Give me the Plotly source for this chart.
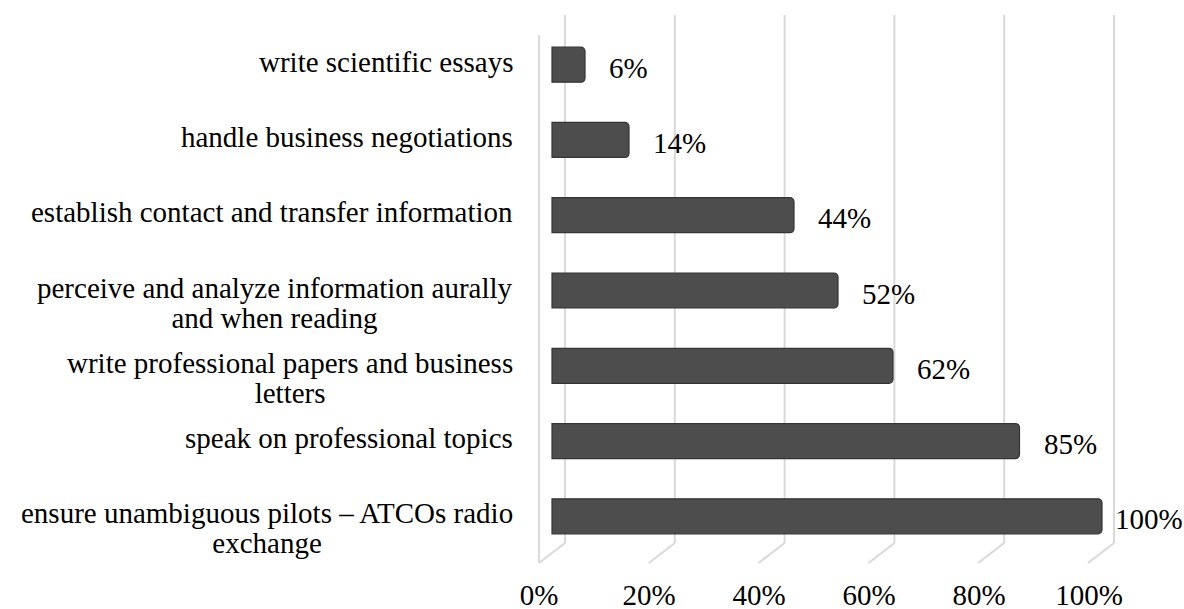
import plotly.graph_objects as go

# ---- data (top to bottom as shown) ----
categories = [
    "write scientific essays",
    "handle business negotiations",
    "establish contact and transfer information",
    "perceive and analyze information aurally<br>and when reading",
    "write professional papers and business<br>letters",
    "speak on professional topics",
    "ensure unambiguous pilots – ATCOs radio<br>exchange",
]
values = [6, 14, 44, 52, 62, 85, 100]
value_labels = ["6%", "14%", "44%", "52%", "62%", "85%", "100%"]
tick_values = [0, 20, 40, 60, 80, 100]
tick_labels = ["0%", "20%", "40%", "60%", "80%", "100%"]

# ---- layout constants (pixels) ----
W, H = 1184, 609
L, R, T, B = 530, 1120, 27, 554          # plot area
FONT = "Liberation Serif, Times New Roman, serif"
FS = 29
LINE_FS = 23                              # controls line spacing of wrapped labels
GRID = "#d9d9d9"

def paper_y(py):
    return (B - py) / (B - T)

def xrange(zero_px, px_per_unit):
    return [(L - zero_px) / px_per_unit, (R - zero_px) / px_per_unit]

bar_scale = 5.5
back_scale = 109.8 / 20.0
depth_units = 26 / back_scale

fig = go.Figure()
fig.add_trace(go.Bar(
    x=values, y=categories, orientation="h", xaxis="x", yaxis="y",
    width=0.465,
    marker=dict(color="#4d4d4d", line=dict(color="#353535", width=1.2), cornerradius=4),
    hoverinfo="skip", showlegend=False,
))

shapes = []
for t in tick_values:
    shapes.append(dict(type="line", xref="x2", yref="paper",
                       x0=t, x1=t, y0=paper_y(15), y1=paper_y(543),
                       line=dict(color=GRID, width=2), layer="below"))
    shapes.append(dict(type="line", xref="x2", yref="paper",
                       x0=t, x1=t - depth_units, y0=paper_y(543), y1=paper_y(563),
                       line=dict(color=GRID, width=2), layer="below"))
# front edge of left wall
shapes.append(dict(type="line", xref="x2", yref="paper",
                   x0=tick_values[0] - depth_units, x1=tick_values[0] - depth_units,
                   y0=paper_y(35), y1=paper_y(563),
                   line=dict(color=GRID, width=2), layer="below"))

annotations = []
for cat in categories:
    lines = cat.split("<br>")
    n = len(lines)
    txt = "<br>".join('<span style="font-size:%dpx">%s</span>' % (FS, s) for s in lines)
    annotations.append(dict(
        xref="paper", yref="y", x=(515 - L) / (R - L), y=cat,
        text=txt, xanchor="right", yanchor="middle", align="center",
        showarrow=False, yshift=-(n - 1) * 15 + 3,
        font=dict(family=FONT, size=LINE_FS if n > 1 else FS, color="black"),
    ))
for cat, v, lab in zip(categories, values, value_labels):
    annotations.append(dict(
        xref="x", yref="y", x=v, y=cat, text=lab,
        xanchor="left", yanchor="middle", showarrow=False,
        xshift=22 if v < 95 else 11, yshift=-3,
        font=dict(family=FONT, size=FS, color="black"),
    ))

fig.update_layout(
    width=W, height=H,
    margin=dict(l=L, r=W - R, t=T, b=H - B, autoexpand=False),
    paper_bgcolor="white", plot_bgcolor="rgba(0,0,0,0)",
    showlegend=False,
    font=dict(family=FONT, size=FS, color="black"),
    xaxis=dict(range=xrange(552, bar_scale), tickvals=tick_values, ticktext=tick_labels,
               ticklabelshift=-13,
               ticks="outside", ticklen=15, tickcolor="rgba(0,0,0,0)",
               ticklabeloverflow="allow",
               tickfont=dict(family=FONT, size=FS, color="black"),
               showgrid=False, zeroline=False, showline=False, automargin=False),
    xaxis2=dict(range=xrange(565, back_scale), overlaying="x", anchor="y",
                showticklabels=False, ticks="", showgrid=False, zeroline=False,
                showline=False, automargin=False),
    yaxis=dict(categoryorder="array", categoryarray=categories, range=[6.5, -0.5],
               showticklabels=False, showgrid=False, zeroline=False, showline=False,
               ticks="", automargin=False),
    shapes=shapes,
    annotations=annotations,
)

fig.write_html("out.html", config={"displayModeBar": False},
               post_script="document.body.style.margin='0px';document.body.style.padding='0px';")
